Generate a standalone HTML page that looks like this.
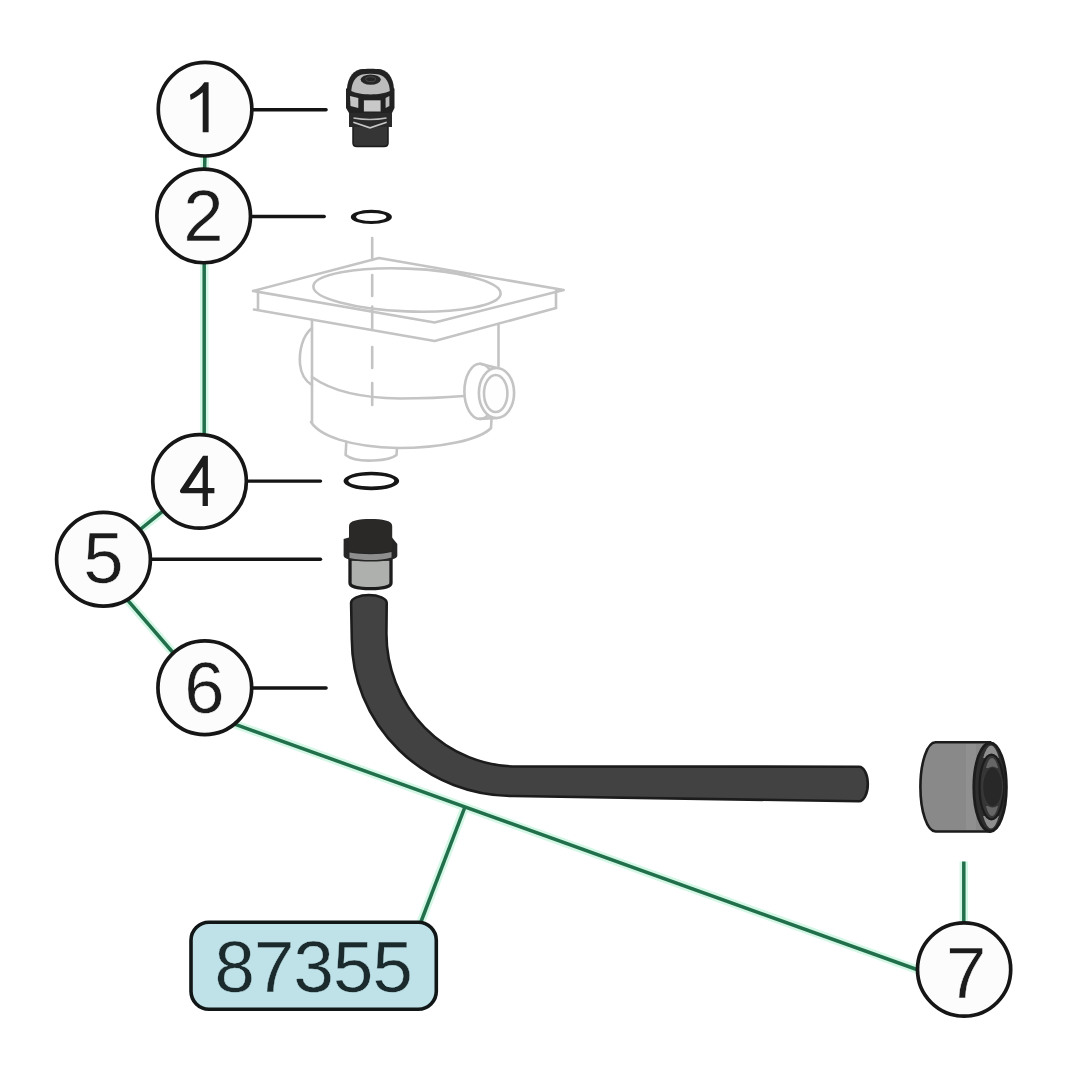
<!DOCTYPE html>
<html><head><meta charset="utf-8"><style>
html,body{margin:0;padding:0;background:#fff;}
body{width:1080px;height:1080px;overflow:hidden;}
svg{display:block;}
text{font-family:"Liberation Sans",sans-serif;}
</style></head><body>
<svg width="1080" height="1080" viewBox="0 0 1080 1080">
<rect width="1080" height="1080" fill="#ffffff"/>

<!-- Housing (faded gray) -->
<g fill="none" stroke="#c4c4c4" stroke-width="2.6" stroke-linejoin="round" stroke-linecap="round">
  <!-- plate top face -->
  <path d="M253,291 L379,258 L563.7,290 L434.6,322.5 Z"/>
  <!-- plate vertical edges -->
  <path d="M258,292 L258,309.5 M556,291 L556,308"/>
  <!-- plate bottom edges -->
  <path d="M254,309.5 L434.6,341 L556,308"/>
  <!-- opening ellipse -->
  <ellipse cx="407" cy="290" rx="93.7" ry="21.4" transform="rotate(2.2 407 290)"/>
  <!-- cylinder -->
  <path d="M312,320 L312,422"/>
  <path d="M498.5,324 L498.5,366"/>
  <!-- left tab -->
  <path d="M312,328 C302,336 299,352 300,364 C301,374 305,381 312,385"/>
  <!-- band -->
  <path d="M312,377 C330,390 360,398 400,398.5 C430,398.5 452,397 464,396"/>
  <!-- bottom -->
  <path d="M311,422 C320,436 350,447 398,448 C440,448 480,440 491,428 L491.5,419"/>
  <!-- nub -->
  <path d="M346.3,442 L345.6,455 C352,460 365,461 374,460.5 C385,460 393,458 396.5,455 L397,448"/>
  <!-- port -->
  <ellipse cx="480" cy="391.3" rx="15.6" ry="27.6"/>
  <path d="M480,363.7 L497,368 M480,418.9 L497,418"/>
  <ellipse cx="496.5" cy="393" rx="17.6" ry="25" fill="#fefefe"/>
  <ellipse cx="495.7" cy="393.5" rx="11.7" ry="18.5"/>
  <!-- dashed center line -->
  <path d="M372.2,238 L372.2,260 M372.2,275 L372.2,296 M372.2,306.5 L372.2,329.4 M372.2,347 L372.2,368 M372.2,383 L372.2,405"/>
</g>

<!-- Green connector lines -->
<g stroke="#d4f7e6" stroke-width="8.5" fill="none">
  <path d="M205,150 L204.5,175"/>
  <path d="M204.2,258 L204.2,440"/>
  <path d="M164.3,509.9 L138.9,530.5"/>
  <path d="M126.3,598.7 L174.6,654.5"/>
  <path d="M232.6,723.4 L918.2,970"/>
  <path d="M464.6,807.8 L420.5,923"/>
  <path d="M963.8,861.5 L963.8,924"/>
</g>
<g stroke="#226f4c" stroke-width="3.5" fill="none" stroke-linecap="butt">
  <path d="M205,150 L204.5,175"/>
  <path d="M204.2,258 L204.2,440"/>
  <path d="M164.3,509.9 L138.9,530.5"/>
  <path d="M126.3,598.7 L174.6,654.5"/>
  <path d="M232.6,723.4 L918.2,970"/>
  <path d="M464.6,807.8 L420.5,923"/>
  <path d="M963.8,861.5 L963.8,924"/>
</g>

<!-- Leader lines -->
<g stroke="#141414" stroke-width="3.4" fill="none" stroke-linecap="round">
  <path d="M250,109.8 L326.1,109.8"/>
  <path d="M249,216.5 L324.2,216.5"/>
  <path d="M245,481.1 L320.5,481.1"/>
  <path d="M149,559.25 L320.5,559.25"/>
  <path d="M250,688 L326.1,688"/>
</g>

<!-- Circles -->
<g fill="#fcfcfc" stroke="#161616" stroke-width="3.7">
  <circle cx="205.05" cy="109.2" r="46.8"/>
  <circle cx="203.7" cy="215.95" r="46.8"/>
  <circle cx="199.55" cy="481.4" r="46.8"/>
  <circle cx="103.5" cy="559.25" r="46.9"/>
  <circle cx="204.8" cy="687.75" r="46.85"/>
  <circle cx="964.1" cy="969.5" r="46.6"/>
</g>
<g font-size="72.5" fill="#1c1c1c" text-anchor="middle" stroke="#fcfcfc" stroke-width="0.5">
  <path stroke="none" d="M202.7,132.3 L208.6,132.3 L208.6,82.3 L204.3,82.3 C201.2,87 196.5,91.2 190,94.8 L190.6,100 C195.5,97.6 199.5,95 202.7,92.2 Z" fill="#1c1c1c"/>
  <text x="203.5" y="240.5">2</text>
  <path stroke="none" fill-rule="evenodd" d="M203,455.7 L207.9,455.7 L207.9,488 L214.4,488 L214.4,493.3 L207.9,493.3 L207.9,506 L202.6,506 L202.6,493.3 L181.8,493.3 C180,493.3 179.3,491.3 180.5,489.6 Z M202.6,466.8 L202.6,488 L188.6,488 Z"/>
  <text x="103.5" y="583">5</text>
  <text x="204.5" y="712.5">6</text>
  <text x="966.1" y="998.3">7</text>
</g>

<!-- 87355 box -->
<rect x="191" y="922.2" width="245.3" height="87.1" rx="18" ry="18" fill="#bee2e8" stroke="#111716" stroke-width="3.6"/>
<text x="313.3" y="992" font-size="72.5" letter-spacing="-0.8" fill="#1b2a2d" stroke="#bee2e8" stroke-width="0.4" text-anchor="middle">87355</text>

<!-- O-ring 2 -->
<path fill-rule="evenodd" fill="#161616" d="M350.8,216.9 A20.55,7.1 0 1 0 391.9,216.9 A20.55,7.1 0 1 0 350.8,216.9 Z M356.1,216.9 A15.15,4 0 1 0 386.4,216.9 A15.15,4 0 1 0 356.1,216.9 Z"/>
<!-- O-ring 4 -->
<path fill-rule="evenodd" fill="#161616" d="M343.5,481 A27.85,9.2 0 1 0 399.2,481 A27.85,9.2 0 1 0 343.5,481 Z M348.3,480.85 A23,5.55 0 1 0 394.3,480.85 A23,5.55 0 1 0 348.3,480.85 Z"/>

<!-- Part 1: cable gland -->
<g>
  <!-- threaded bottom -->
  <path d="M353,126 L388,126 L388,143 Q388,146.5 384,146.5 L357,146.5 Q353,146.5 353,143 Z" fill="#353535" stroke="#1a1a1a" stroke-width="1.5"/>
  <!-- flange -->
  <path d="M349,112.5 L392,112.5 L392,127 L349,127 Z" fill="#2a2a2a"/>
  <path d="M353.5,118 Q370,121 386.5,118" stroke="#bdbdbd" stroke-width="1.6" fill="none"/>
  <path d="M353.3,122.2 L370,127.8 L386.7,122.2" stroke="#c8c8c8" stroke-width="1.6" fill="none"/>
  <!-- hex nut -->
  <path d="M346,88.5 L394.5,88.5 L394.5,108 L392,113 L349,113 L346,108 Z" fill="#222"/>
  <path d="M350,96 L358.3,98 L358.3,108 L350.5,106 Z" fill="#c4c4c4"/>
  <path d="M363.9,100.3 L380.6,100.3 L380.6,111.5 L363.9,111.5 Z" fill="#c8c8c8"/>
  <path d="M385.6,98 L389.4,96 L389.4,106 L385.6,108 Z" fill="#bcbcbc"/>
  <!-- dome -->
  <path d="M346.8,93 C346.5,81 351,71.5 360,69.3 C366,68.5 375,68.5 381,69.3 C390,71.5 394.5,81 394,93 C384,97 357,97 346.8,93 Z" fill="#232323"/>
  <path d="M351.3,91 C351.8,83 355,76.5 362,74.5 C367,73.6 374,73.6 379,74.5 C386,76.5 389.5,83 389.8,91 C381,95.5 360,95.5 351.3,91 Z" fill="#bcbcbc"/>
  <ellipse cx="370.7" cy="79.6" rx="10.1" ry="5.2" fill="#262626"/>
  <ellipse cx="370.7" cy="79.2" rx="5" ry="2.4" fill="none" stroke="#4a4a4a" stroke-width="1"/>
</g>

<!-- Part 5: fitting -->
<g>
  <!-- lower light part -->
  <path d="M350,559 L391,559 L391,583 C391,587 382,588.6 370.5,588.6 C359,588.6 350,587 350,583 Z" fill="#adb0ad" stroke="#1c1c1c" stroke-width="3.3"/>
  <!-- hex flange -->
  <path d="M343.6,539 L349,537.5 L392,537.5 L397.3,544 L397.3,556 C396,560 385,561.5 370.5,561.5 C356,561.5 345,560 343.6,556 Z" fill="#262626"/>
  <path d="M349.5,552.5 C356,553.8 363,554.2 370.5,554.2 C378,554.2 385,553.8 391.5,552 L391.5,557.5 C385,559.5 378,560 370.5,560 C363,560 356,559.5 349.5,558 Z" fill="#8e8e8e"/>
  <!-- top threaded -->
  <path d="M349,526 C349,520.5 359,519.1 370.5,519.1 C382,519.1 392.2,520.5 392.2,526 L392.2,550.5 C385,552.6 378,553 370.5,553 C363,553 356,552.6 349,550.5 Z" fill="#2a2927"/>
</g>

<!-- Hose (part 6) -->
<path d="M351.1,603 L351.8,639 A161.1,157.1 0 0 0 512.9,796 L859,801.3 A8.8,17.3 0 0 0 859,766.7 L517,766.5 A130.6,132.9 0 0 1 386.4,633.6 L386.7,603 A17.8,8 0 0 0 351.1,603 Z" fill="#424242" stroke="#1c1c1c" stroke-width="2.6" stroke-linejoin="round"/>

<!-- Part 7: cap -->
<defs>
  <clipPath id="c7a"><rect x="970" y="738" width="40" height="20"/><rect x="970" y="816" width="40" height="20"/></clipPath>
  <clipPath id="c7b"><rect x="970" y="752" width="40" height="16"/><rect x="970" y="806" width="40" height="16"/></clipPath>
</defs>
<g>
  <path d="M935.6,742.3 L990,742.3 L990,831.5 L935.6,831.5 A15.2,44.6 0 0 1 935.6,742.3 Z" fill="#898989" stroke="#1c1c1c" stroke-width="2.6"/>
  <rect x="966" y="744" width="10" height="86" fill="#909090"/>
  <ellipse cx="990.1" cy="787.2" rx="16.3" ry="44.4" fill="#2e2e2e" stroke="#1c1c1c" stroke-width="2.8"/>
  <ellipse cx="991" cy="787" rx="11" ry="41.5" fill="#8e8e8e" clip-path="url(#c7a)"/>
  <ellipse cx="991.5" cy="787" rx="12" ry="32.4" fill="#363636" stroke="#1c1c1c" stroke-width="2.2"/>
  <ellipse cx="992" cy="787" rx="8" ry="29" fill="#666" clip-path="url(#c7b)"/>
  <ellipse cx="992.6" cy="787" rx="10" ry="20" fill="#282828" stroke="#3a3a3a" stroke-width="1.2"/>
</g>

</svg>
</body></html>
